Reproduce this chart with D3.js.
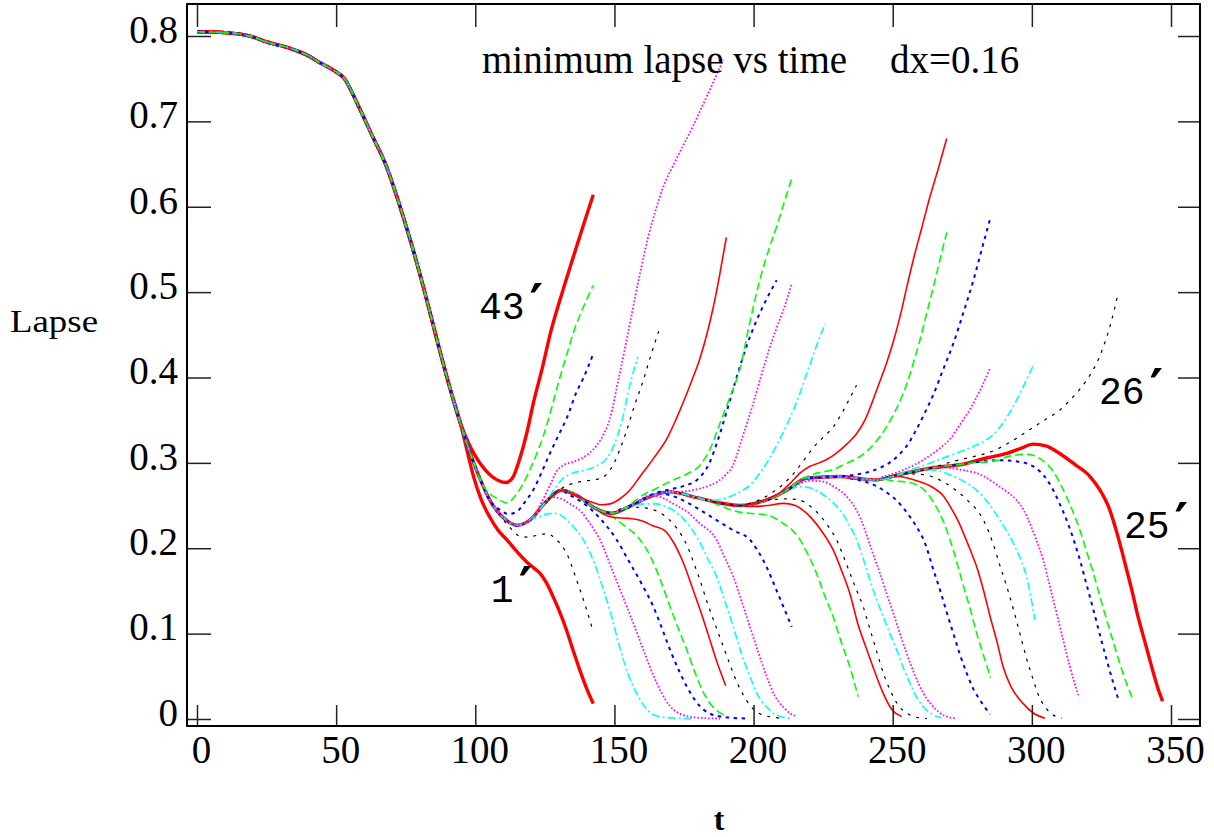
<!DOCTYPE html>
<html>
<head>
<meta charset="utf-8">
<script src="https://cdn.jsdelivr.net/npm/d3@7"></script>
<style>
  body { margin: 0; background: #fff; }
</style>
</head>
<body>
<div id="chart"></div>
<script>
// common path that every run follows before it splits off
var trunk = [[0,0.805],[10,0.804],[20,0.799],[25,0.793],[33,0.786],[40,0.777],[44,0.769],[49,0.760],[53,0.750],
  [58,0.718],[63,0.683],[68,0.648],[72,0.610],[77,0.557],[82,0.498],[86,0.447],[90,0.398],[94,0.353],[98,0.313],
  [102,0.279],[106,0.252],[110,0.236],[115,0.227],[120,0.234],[125,0.253],[131,0.268],[137,0.261],[143,0.247],
  [149,0.241],[156,0.250],[164,0.262],[170,0.266],[180,0.259],[188,0.253],[195,0.250],[205,0.257],[212,0.268],
  [219,0.282],[231,0.284],[237,0.282],[244,0.280],[252,0.286],[264,0.294],[276,0.299],[288,0.303],[296,0.306]];

// runs 1' .. 25' (collapse), branch part only
var downRuns = [
  [[95,0.342],[97,0.315],[99.3,0.285],[102,0.258],[105.3,0.236],[108,0.222],[111.3,0.21],[115,0.196],[118.5,0.184],[121,0.177],[123.2,0.171],[125.5,0.16],[128,0.143],[130.5,0.124],[132.8,0.104],[135.2,0.08],[137.6,0.057],[140,0.036],[142.4,0.018]],
  [[108,0.242],[112,0.226],[116.1,0.214],[119,0.213],[122,0.215],[125.7,0.217],[129.2,0.21],[132.8,0.194],[136.4,0.163],[140,0.128],[142.4,0.102]],
  [[118,0.231],[122,0.236],[125.5,0.24],[128.6,0.241],[131.5,0.237],[134.5,0.228],[138.8,0.21],[142.5,0.185],[146,0.152],[149,0.12],[152,0.083],[155,0.052],[158,0.03],[162,0.01],[166,0.003],[172,0.001],[178,0.0005]],
  [[127,0.26],[131,0.258],[134,0.252],[138,0.243],[141,0.23],[144.8,0.21],[149.5,0.172],[154.4,0.132],[158.2,0.1],[160.4,0.081],[163.5,0.055],[166.4,0.034],[170,0.015],[173.6,0.006],[180,0.0015],[188,0.0005]],
  [[133,0.264],[138.8,0.253],[144.8,0.235],[150.8,0.21],[155,0.186],[160,0.157],[164,0.1315],[167.8,0.1],[170,0.081],[173,0.058],[176,0.038],[179,0.022],[182,0.011],[188,0.003],[197.5,0.0005]],
  [[140,0.252],[146,0.243],[153,0.228],[159.2,0.21],[163,0.19],[166.5,0.163],[170,0.1315],[173.7,0.1],[176,0.081],[179,0.054],[182,0.031],[186,0.012],[190,0.004]],
  [[146,0.24],[150,0.236],[155,0.235],[160,0.232],[164,0.226],[168,0.221],[171.2,0.207],[174.5,0.185],[178.3,0.151],[181,0.126],[183.6,0.1],[186.5,0.07],[190,0.039]],
  [[152,0.246],[158,0.248],[164,0.245],[168,0.238],[171,0.229],[174,0.216],[176.5,0.2],[178.5,0.183],[180.7,0.163],[183.5,0.135],[186.5,0.108],[189.1,0.085],[191.5,0.064],[194,0.043],[196.5,0.027],[199,0.015],[202.3,0.006],[209.5,0.001]],
  [[156,0.249],[161,0.252],[165,0.252],[169,0.248],[173,0.24],[177,0.226],[180.7,0.207],[183.5,0.188],[186.7,0.167],[189.5,0.14],[192.7,0.108],[195.5,0.078],[198.7,0.05],[201.5,0.028],[204.7,0.014],[208,0.005],[213,0.001]],
  [[163,0.262],[168,0.258],[171.2,0.252],[176,0.243],[180.7,0.229],[186.7,0.21],[189.5,0.19],[192.7,0.167],[195.5,0.14],[198.7,0.108],[201.5,0.08],[204.7,0.05],[207.5,0.028],[210.7,0.014],[213,0.007],[215.5,0.003]],
  [[166,0.264],[172,0.26],[176.5,0.253],[180.7,0.245],[186.7,0.233],[192.7,0.221],[198.7,0.21],[201.7,0.196],[204.7,0.178],[207.7,0.155],[210.7,0.1315],[213.7,0.108]],
  [[183,0.256],[188,0.25],[192.7,0.244],[198.5,0.241],[204.7,0.239],[210.7,0.229],[214,0.221],[216.7,0.21],[219.5,0.193],[222.7,0.17],[225.5,0.145],[228.6,0.12],[231.5,0.09],[234.6,0.061],[237.6,0.026]],
  [[196,0.249],[200,0.249],[205,0.25],[210.7,0.2526],[215,0.25],[220.3,0.237],[224.5,0.22],[228.6,0.198],[231.5,0.175],[234.6,0.147],[237.6,0.11],[240.6,0.082],[243.6,0.055],[246.6,0.03],[249.5,0.012],[253.2,0.003]],
  [[205,0.256],[210.7,0.258],[216,0.257],[220,0.25],[224,0.238],[227,0.225],[229.8,0.21],[232,0.193],[234.6,0.171],[237,0.151],[239.4,0.1315],[241.2,0.112],[243,0.0925],[244.8,0.073],[246.6,0.054],[248.5,0.038],[250.2,0.026],[252.5,0.014],[255,0.007],[258.5,0.002],[262.2,0.0005]],
  [[212,0.267],[216,0.272],[220,0.271],[224,0.265],[228,0.255],[231,0.245],[234,0.23],[237,0.21],[239.5,0.187],[241.8,0.163],[244.2,0.14],[246.6,0.12],[249,0.1],[251.4,0.081],[253.8,0.06],[256.2,0.042],[258.5,0.026],[261,0.0144],[264,0.006],[267.6,0.0015]],
  [[216,0.275],[220,0.279],[225,0.278],[229,0.272],[233,0.262],[236,0.25],[238.7,0.233],[241.2,0.21],[243.3,0.19],[245.4,0.171],[247.8,0.147],[250.2,0.124],[252.6,0.1],[255,0.077],[257.4,0.056],[259.8,0.038],[262.2,0.024],[264.6,0.0144],[268.5,0.004],[273,0.0005]],
  [[236,0.281],[240,0.278],[244,0.273],[248,0.265],[252,0.254],[255.5,0.24],[258.6,0.225],[261.6,0.206],[264.3,0.178],[267,0.151],[269.4,0.125],[271.8,0.1],[274.2,0.075],[276.6,0.0535],[279,0.035],[281.4,0.022],[285,0.0055]],
  [[246,0.281],[250,0.279],[256,0.277],[262,0.266],[265,0.252],[268,0.233],[270.6,0.21],[273,0.184],[275.4,0.156],[278,0.127],[280.2,0.1],[282.7,0.074],[285.2,0.048]],
  [[252,0.284],[258.6,0.279],[264,0.272],[268,0.262],[271,0.247],[273.5,0.232],[276,0.213],[278,0.197],[280.2,0.178],[282.7,0.15],[285,0.12],[287.5,0.09],[289.7,0.061],[292.5,0.038],[296.9,0.018],[300.5,0.007],[304.7,0.001]],
  [[258,0.287],[264,0.284],[270.6,0.273],[276.6,0.257],[282.6,0.233],[286,0.206],[288.5,0.18],[291,0.155],[293.5,0.127],[295.7,0.1],[298,0.072],[300.5,0.046],[302.5,0.027],[304.7,0.0144],[307.5,0.005],[310.7,0.001]],
  [[262,0.292],[266,0.291],[270.6,0.286],[274,0.281],[277.8,0.274],[282.6,0.26],[285.5,0.248],[288.5,0.233],[291.5,0.217],[294.5,0.198],[296.5,0.183],[298.1,0.167],[299.7,0.142],[301.1,0.116]],
  [[266,0.295],[270.6,0.294],[276,0.291],[280.2,0.288],[284.5,0.281],[288.5,0.272],[291.5,0.265],[294.5,0.2565],[297,0.245],[299.3,0.229],[301.7,0.209],[304.1,0.186],[306.5,0.155],[308.9,0.124],[311.3,0.092],[313.7,0.061],[316.7,0.028]],
  [[290,0.303],[294,0.302],[298,0.2995],[302.9,0.29],[305.5,0.28],[307.7,0.268],[310,0.252],[312.5,0.233],[315,0.21],[317.3,0.186],[319.7,0.157],[322.1,0.128],[324.5,0.098],[326.9,0.069],[329,0.045],[331,0.024]],
  [[290,0.306],[294,0.309],[298.1,0.31],[300.5,0.309],[302.9,0.305],[305.3,0.299],[307.7,0.29],[310,0.277],[312.5,0.26],[315,0.241],[317.3,0.221],[319.7,0.196],[322.1,0.171],[324.5,0.143],[326.9,0.116],[329.3,0.09],[331.6,0.065],[334,0.042],[336.4,0.022]],
  [[284,0.306],[291,0.311],[296,0.317],[300.5,0.322],[305,0.32],[310,0.311],[315.5,0.298],[320.9,0.284],[324.5,0.268],[328,0.245],[331,0.213],[333.5,0.182],[336,0.15],[338,0.122],[339.8,0.1],[341.5,0.08],[343.5,0.056],[345.2,0.037],[347,0.021]]
];

// runs 43' down to 26' (lapse grows back), branch part only
var upRuns = [
  [[96,0.335],[98.5,0.317],[101,0.303],[103.5,0.292],[106,0.284],[108.5,0.279],[111,0.277],[113.3,0.282],[116,0.305],[118.5,0.335],[121,0.372],[124,0.41],[127,0.452],[131,0.497],[135.2,0.541],[138.8,0.578],[142.4,0.614]],
  [[104,0.268],[108,0.258],[111.3,0.253],[114.5,0.262],[118.5,0.284],[121.5,0.306],[124.4,0.331],[127.5,0.365],[130.4,0.4],[133,0.428],[135.2,0.452],[138,0.476],[140,0.491],[142.4,0.508]],
  [[108,0.247],[112,0.24],[115,0.243],[118,0.255],[120.8,0.268],[124,0.29],[126.8,0.311],[130,0.333],[132.8,0.352],[136.4,0.383],[138.8,0.399],[140.5,0.412],[142.4,0.428]],
  [[124,0.255],[127,0.275],[129.2,0.29],[132,0.298],[135.2,0.301],[138,0.305],[141.2,0.312],[144,0.322],[146.5,0.336],[148.4,0.352],[151.4,0.397],[154.4,0.444],[157,0.487],[159.2,0.522],[162,0.563],[165.2,0.6],[168,0.627],[171.2,0.649],[178.3,0.695],[184,0.735],[189.1,0.772]],
  [[126,0.258],[129,0.272],[131.6,0.282],[135,0.288],[140,0.292],[144,0.297],[147.2,0.305],[150,0.322],[152.6,0.348],[155.6,0.392],[158.4,0.424]],
  [[128,0.263],[131,0.27],[135.2,0.276],[140,0.279],[144,0.281],[147,0.286],[149.6,0.298],[152,0.316],[154.4,0.338],[157,0.365],[160.4,0.397],[163,0.425],[166.1,0.456]],
  [[138,0.259],[142,0.254],[145,0.251],[148.4,0.252],[152,0.258],[155.5,0.268],[159.2,0.284],[164,0.305],[168.8,0.328],[172,0.35],[175,0.373],[178,0.398],[180.7,0.422],[183,0.448],[185.5,0.482],[187.8,0.52],[190.2,0.564]],
  [[156,0.252],[160,0.262],[165,0.27],[171.2,0.28],[176,0.287],[180.7,0.297],[184.5,0.317],[188,0.347],[191.5,0.377],[195.1,0.41],[198.5,0.462],[202.3,0.515],[205.5,0.55],[208.3,0.577],[211,0.605],[213.7,0.633]],
  [[165,0.265],[170,0.269],[175,0.273],[180,0.281],[184,0.299],[187,0.325],[190.5,0.362],[193.9,0.4],[197.5,0.437],[201.1,0.467],[204.7,0.492],[208.3,0.514]],
  [[172,0.266],[178,0.268],[183,0.272],[187,0.278],[190,0.286],[192.7,0.298],[196,0.33],[199.9,0.37],[203,0.405],[205.9,0.436],[208.5,0.46],[210.7,0.479],[213.7,0.51]],
  [[184,0.256],[190.3,0.259],[194.5,0.265],[198.7,0.274],[202,0.287],[205.5,0.304],[209,0.325],[213,0.352],[216.5,0.38],[219.5,0.408],[222.5,0.436],[225.7,0.463]],
  [[198,0.252],[203,0.258],[207,0.266],[211,0.276],[215.5,0.292],[218.5,0.305],[221.5,0.318],[225,0.33],[228.6,0.342],[231,0.354],[233.5,0.369],[237,0.391]],
  [[206,0.259],[209,0.264],[213.1,0.276],[217,0.289],[220.3,0.296],[223.5,0.3],[226.3,0.304],[230,0.312],[233.5,0.322],[237,0.334],[240,0.35],[242.5,0.37],[245,0.392],[247.8,0.417],[250.3,0.443],[252.6,0.471],[255,0.505],[257.4,0.538],[260.5,0.576],[263.4,0.612],[266.5,0.646],[269.4,0.68]],
  [[214,0.273],[218,0.282],[222.7,0.288],[228.6,0.292],[233,0.299],[237,0.305],[240.5,0.313],[244,0.325],[247,0.338],[249.5,0.352],[252,0.368],[255,0.392],[257.5,0.418],[259.8,0.444],[262.2,0.475],[264.6,0.506],[267,0.538],[269.4,0.57]],
  [[234,0.285],[238,0.287],[242,0.29],[246,0.295],[250,0.303],[253,0.312],[255.5,0.322],[258,0.336],[261,0.355],[264.6,0.38],[268.2,0.41],[271.8,0.44],[275.5,0.477],[279,0.514],[282,0.55],[285,0.586]],
  [[246,0.283],[250,0.287],[254,0.292],[258,0.298],[262.2,0.306],[266.5,0.316],[270.6,0.328],[274.2,0.345],[277.8,0.363],[281.4,0.385],[285,0.411]],
  [[254,0.289],[257.4,0.293],[262,0.298],[266,0.303],[270,0.308],[274.2,0.313],[278,0.318],[282,0.324],[286.1,0.333],[289.7,0.347],[293.3,0.366],[297,0.39],[300.8,0.416]],
  [[272,0.302],[276,0.305],[280,0.308],[286.1,0.314],[292,0.324],[298.1,0.3365],[304,0.349],[310.1,0.362],[315,0.378],[319.7,0.397],[323,0.415],[325.7,0.436],[328.5,0.465],[331,0.499]]
];

var xTicks = [0, 50, 100, 150, 200, 250, 300, 350];
var yTicks = [0, 0.1, 0.2, 0.3, 0.4, 0.5, 0.6, 0.7, 0.8];
var thickRuns = [1, 25, 43];

var width = 1214, height = 837;
var frame = {left: 187, right: 1200, top: 4, bottom: 726};
var serif = "'Liberation Serif', 'Times New Roman', serif";

var svg = d3.select("#chart")
    .append("svg")
    .attr("width", width)
    .attr("height", height);

var x = d3.scaleLinear().domain([0, 350]).range([197, 1171]);
var y = d3.scaleLinear().domain([0, 0.8]).range([719, 36]);

// line style cycles with the run number
var styles = [
  {color: "#ff0000", dash: null, w: 1.6},
  {color: "#000000", dash: "3,6", w: 1.2},
  {color: "#00ffff", dash: "8,3,2,3", w: 1.6},
  {color: "#ff00ff", dash: "1.6,2", w: 1.8},
  {color: "#0000ff", dash: "3.5,4.5", w: 2},
  {color: "#00ff00", dash: "8,4", w: 1.6}
];

function withTrunk(branch) {
  var t0 = branch[0][0];
  return trunk.filter(d => d[0] < t0 - 1.5).concat(branch);
}

var runs = [];
downRuns.forEach((b, i) => runs.push({n: i + 1, pts: withTrunk(b)}));
upRuns.forEach((b, i) => runs.push({n: 43 - i, pts: withTrunk(b)}));
runs.sort((a, b) => a.n - b.n);
// thick runs first so the thin dashed ones stay visible on top
runs = runs.filter(r => thickRuns.includes(r.n)).concat(runs.filter(r => !thickRuns.includes(r.n)));

var line = d3.line()
    .x(d => x(d[0]))
    .y(d => y(d[1]))
    .curve(d3.curveMonotoneX);

svg.append("g").selectAll("path")
    .data(runs)
    .enter().append("path")
    .attr("d", d => line(d.pts))
    .attr("fill", "none")
    .attr("stroke", d => styles[(d.n - 1) % 6].color)
    .attr("stroke-width", d => thickRuns.includes(d.n) ? 3.4 : styles[(d.n - 1) % 6].w)
    .attr("stroke-dasharray", d => thickRuns.includes(d.n) ? null : styles[(d.n - 1) % 6].dash);

// Axes: ticks point inward on all four sides
var gLeft = svg.append("g").attr("transform", "translate(" + frame.left + ",0)")
    .call(d3.axisLeft(y).tickValues(yTicks).tickSize(-24).tickSizeOuter(0).tickPadding(9).tickFormat(d3.format("")));
var gBottom = svg.append("g").attr("transform", "translate(0," + frame.bottom + ")")
    .call(d3.axisBottom(x).tickValues(xTicks).tickSize(-21).tickSizeOuter(0).tickPadding(9));
var gRight = svg.append("g").attr("transform", "translate(" + frame.right + ",0)")
    .call(d3.axisRight(y).tickValues(yTicks).tickSize(-22).tickSizeOuter(0).tickFormat(""));
var gTop = svg.append("g").attr("transform", "translate(0," + frame.top + ")")
    .call(d3.axisTop(x).tickValues(xTicks).tickSize(-23).tickSizeOuter(0).tickFormat(""));

[gLeft, gBottom, gRight, gTop].forEach(g => {
  g.select(".domain").remove();
  g.selectAll("line").attr("stroke", "#222").attr("stroke-width", 1.5);
  g.selectAll("text").attr("font-family", serif).attr("font-size", 39).attr("fill", "#000");
});
gLeft.selectAll("text").attr("dy", "0.16em");
gBottom.selectAll("text").attr("x", 4);

svg.append("rect")
    .attr("x", frame.left)
    .attr("y", frame.top)
    .attr("width", frame.right - frame.left)
    .attr("height", frame.bottom - frame.top)
    .attr("fill", "none")
    .attr("stroke", "#000")
    .attr("stroke-width", 2);

// Title
svg.append("text")
    .attr("x", 482).attr("y", 73)
    .style("font-family", serif).style("font-size", "39px")
    .text("minimum lapse vs time");
svg.append("text")
    .attr("x", 890).attr("y", 73)
    .style("font-family", serif).style("font-size", "39px")
    .text("dx=0.16");

// Axis labels
svg.append("text")
    .attr("x", 10).attr("y", 332)
    .attr("textLength", 88).attr("lengthAdjust", "spacingAndGlyphs")
    .style("font-family", serif).style("font-size", "32px")
    .text("Lapse");

svg.append("text")
    .attr("x", 719).attr("y", 830)
    .attr("text-anchor", "middle")
    .style("font-family", serif).style("font-size", "32px").style("font-weight", "bold")
    .text("t");

// Run labels
var runLabels = [
  {text: "43", t: 101.3, v: 0.4685},
  {text: "1", t: 105.6, v: 0.137},
  {text: "26", t: 324.1, v: 0.369},
  {text: "25", t: 333.1, v: 0.212}
];
var lab = svg.append("g").selectAll("text")
    .data(runLabels)
    .enter().append("text")
    .attr("x", d => x(d.t))
    .attr("y", d => y(d.v))
    .style("font-family", "'Liberation Mono', 'Courier New', monospace")
    .style("font-size", "38px");
lab.append("tspan").text(d => d.text);
lab.append("tspan")
    .attr("dx", 5)
    .attr("dy", 2)
    .style("font-family", "'DejaVu Sans', sans-serif")
    .style("font-weight", "bold")
    .style("font-size", "52px")
    .text("\u2032");
</script>
</body>
</html>
